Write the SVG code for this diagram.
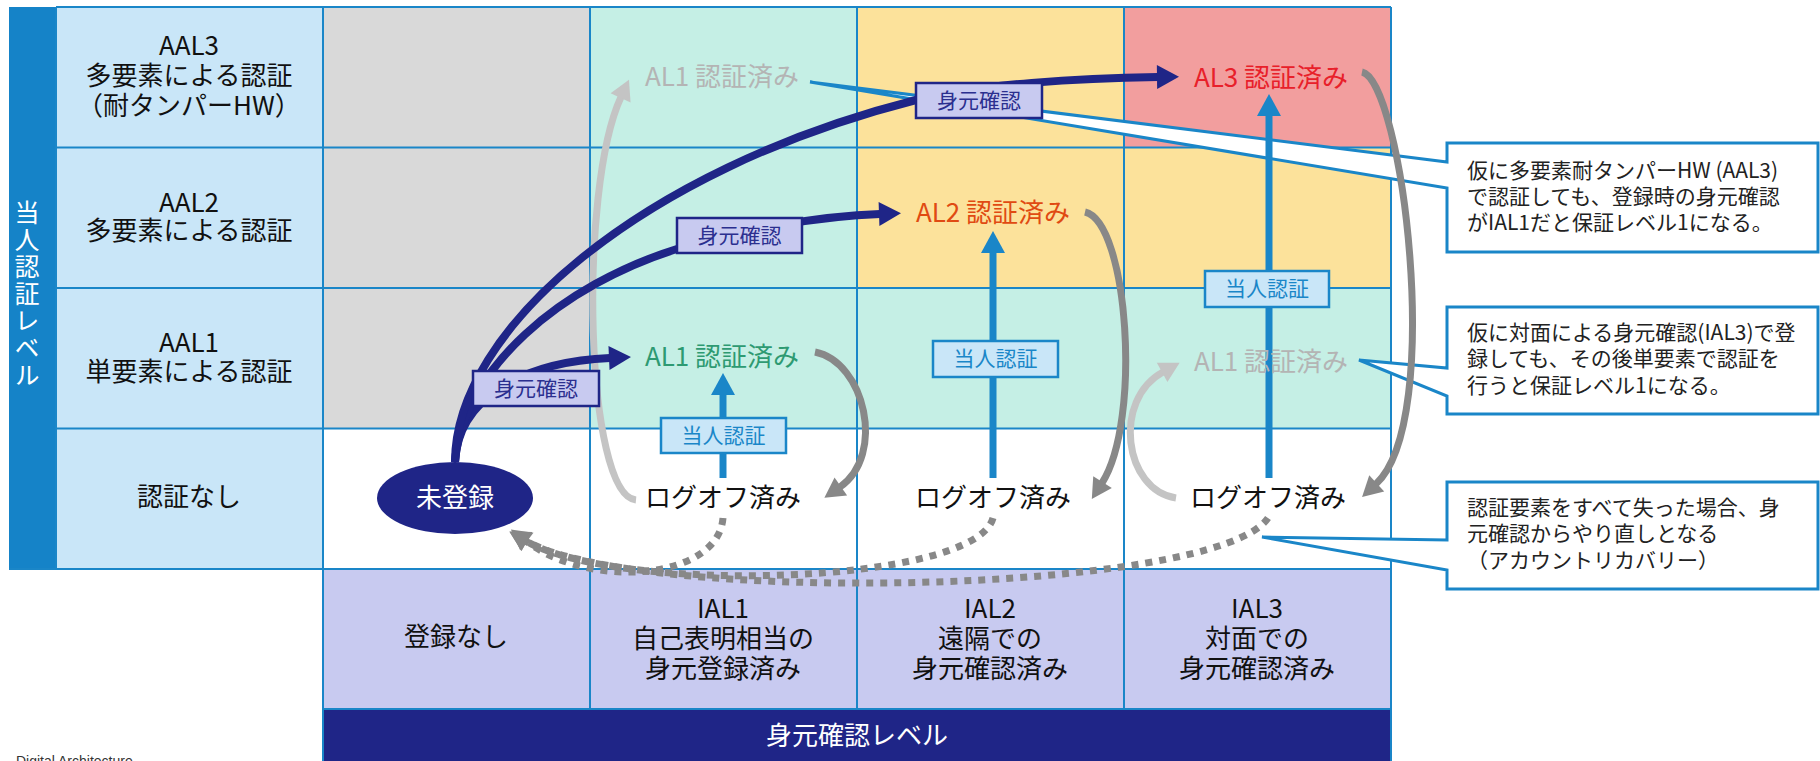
<svg xmlns="http://www.w3.org/2000/svg" width="1820" height="761" viewBox="0 0 1820 761">
<style>
text{font-family:'Noto Sans CJK JP','Noto Sans',sans-serif;}
.c{font-size:26px;fill:#111;text-anchor:middle}
.v{font-size:25px;fill:#fff;writing-mode:vertical-rl;text-orientation:upright;letter-spacing:2px}
.lbl{font-size:21px;text-anchor:middle}
.note{font-size:21px;fill:#222}
.bl{fill:#c9e6f8;stroke:#1a86c8;stroke-width:2.5}
.nv{fill:#c8caf0;stroke:#1f2587;stroke-width:2.5}
.co{fill:#fff;stroke:#1a86c8;stroke-width:3}
.navy{fill:none;stroke:#1f2587;stroke-width:8}
.blue{fill:none;stroke:#1a86c8;stroke-width:7}
.gray{fill:none;stroke:#888;stroke-width:7}
.lgray{fill:none;stroke:#c4c4c4;stroke-width:7}
.dot{fill:none;stroke:#888;stroke-width:7;stroke-dasharray:7 7}
</style>
<defs>
<marker id="mNavy" markerUnits="userSpaceOnUse" markerWidth="24" markerHeight="26" refX="1" refY="12" orient="auto" overflow="visible"><path d="M0,0 L22,12 L0,24 Z" fill="#1f2587"/></marker>
<marker id="mBlue" markerUnits="userSpaceOnUse" markerWidth="24" markerHeight="26" refX="1" refY="12" orient="auto" overflow="visible"><path d="M0,0 L22,12 L0,24 Z" fill="#1a86c8"/></marker>
<marker id="mGray" markerUnits="userSpaceOnUse" markerWidth="22" markerHeight="24" refX="1" refY="11" orient="auto" overflow="visible"><path d="M0,0 L20,11 L0,22 Z" fill="#888"/></marker>
<marker id="mLGray" markerUnits="userSpaceOnUse" markerWidth="22" markerHeight="24" refX="1" refY="11" orient="auto" overflow="visible"><path d="M0,0 L20,11 L0,22 Z" fill="#c4c4c4"/></marker>
</defs>
<rect width="1820" height="761" fill="#fff"/>
<g id="grid">
<rect x="9" y="7" width="47" height="562" fill="#1583c8"/>
<rect x="56" y="7" width="267" height="562" fill="#c9e6f8"/>
<rect x="323" y="7" width="267" height="421.5" fill="#d9d9d9"/>
<rect x="590" y="7" width="267" height="421.5" fill="#c5efe5"/>
<rect x="857" y="7" width="267" height="281" fill="#fce29b"/>
<rect x="857" y="288" width="267" height="140.5" fill="#c5efe5"/>
<rect x="1124" y="7" width="267" height="140.5" fill="#f29e9e"/>
<rect x="1124" y="147.5" width="267" height="140.5" fill="#fce29b"/>
<rect x="1124" y="288" width="267" height="140.5" fill="#c5efe5"/>
<rect x="323" y="569" width="1068" height="140" fill="#c8caf0"/>
<rect x="323" y="709" width="1068" height="52" fill="#1f2587"/>
<path d="M56,7H1391M56,147.5H1391M56,288H1391M56,428.5H1391M9,569H1391M323,709H1391M56,7V569M323,7V761M590,7V709M857,7V709M1124,7V709M1391,7V761" fill="none" stroke="#1a86c8" stroke-width="2"/>
<text class="v" x="27" y="200">当人認証レベル</text>
<text class="c"><tspan x="189" y="55">AAL3</tspan><tspan x="189" y="85">多要素による認証</tspan><tspan x="189" y="115">（耐タンパーHW）</tspan></text>
<text class="c"><tspan x="189" y="212">AAL2</tspan><tspan x="189" y="240">多要素による認証</tspan></text>
<text class="c"><tspan x="189" y="352">AAL1</tspan><tspan x="189" y="381">単要素による認証</tspan></text>
<text class="c" x="189" y="506">認証なし</text>
<text class="c" x="456" y="646">登録なし</text>
<text class="c"><tspan x="723" y="618">IAL1</tspan><tspan x="723" y="648">自己表明相当の</tspan><tspan x="723" y="678">身元登録済み</tspan></text>
<text class="c"><tspan x="990" y="618">IAL2</tspan><tspan x="990" y="648">遠隔での</tspan><tspan x="990" y="678">身元確認済み</tspan></text>
<text class="c"><tspan x="1257" y="618">IAL3</tspan><tspan x="1257" y="648">対面での</tspan><tspan x="1257" y="678">身元確認済み</tspan></text>
<text class="c" x="857" y="745" style="fill:#fff">身元確認レベル</text>
</g>
<g id="callout-aal3">
<path class="co" d="M1447,143H1818V252H1447V188L810,82L1447,162Z"/>
<text class="note"><tspan x="1467" y="178">仮に多要素耐タンパーHW (AAL3)</tspan><tspan x="1467" y="204">で認証しても、登録時の身元確認</tspan><tspan x="1467" y="230">がIAL1だと保証レベル1になる。</tspan></text>
</g>
<g id="callout-ial3">
<path class="co" d="M1447,307H1818V414H1447V396L1359,360L1447,368Z"/>
<text class="note"><tspan x="1467" y="340">仮に対面による身元確認(IAL3)で登</tspan><tspan x="1467" y="366">録しても、その後単要素で認証を</tspan><tspan x="1467" y="393">行うと保証レベル1になる。</tspan></text>
</g>
<g id="callout-recovery">
<path class="co" d="M1447,482H1818V589H1447V570L1262,537L1447,540Z"/>
<text class="note"><tspan x="1467" y="515">認証要素をすべて失った場合、身</tspan><tspan x="1467" y="541">元確認からやり直しとなる</tspan><tspan x="1467" y="568">（アカウントリカバリー）</tspan></text>
</g>
<g id="connectors">
<path class="dot" d="M723,518 C718,580 590,590 526,541" marker-end="url(#mGray)"/>
<path class="dot" d="M993,518 C975,585 620,595 526,541" marker-end="url(#mGray)"/>
<path class="dot" d="M1268,518 C1215,595 640,605 526,541" marker-end="url(#mGray)"/>
<path class="lgray" d="M636,500 C585,495 578,190 621,97" marker-end="url(#mLGray)"/>
<path class="lgray" d="M1176,498 C1124,490 1112,400 1163,372" marker-end="url(#mLGray)"/>
<path class="gray" d="M815,352 C865,362 886,455 840,487" marker-end="url(#mGray)"/>
<path class="gray" d="M1085,212 C1128,222 1142,420 1102,483" marker-end="url(#mGray)"/>
<path class="gray" d="M1362,72 C1402,80 1445,420 1376,484" marker-end="url(#mGray)"/>
<path class="blue" d="M723,478 V394" marker-end="url(#mBlue)"/>
<path class="blue" d="M993,478 V252" marker-end="url(#mBlue)"/>
<path class="blue" d="M1269,478 V115" marker-end="url(#mBlue)"/>
<path class="navy" d="M455,462 C458,400 520,362 610,358" marker-end="url(#mNavy)"/>
<path class="navy" d="M455,462 C462,370 560,285 680,248 C740,230 820,216 880,214" marker-end="url(#mNavy)"/>
<path class="navy" d="M455,462 C455,330 640,170 916,100 C980,84 1080,78 1158,77" marker-end="url(#mNavy)"/>
<g id="label-auth1"><rect class="bl" x="661" y="418" width="125" height="35"/><text class="lbl" x="723.5" y="443" fill="#1a86c8">当人認証</text></g>
<g id="label-auth2"><rect class="bl" x="933" y="341" width="125" height="36"/><text class="lbl" x="995.5" y="366" fill="#1a86c8">当人認証</text></g>
<g id="label-auth3"><rect class="bl" x="1205" y="271" width="124" height="36"/><text class="lbl" x="1267" y="296" fill="#1a86c8">当人認証</text></g>
<g id="label-id1"><rect class="nv" x="473" y="371" width="126" height="35"/><text class="lbl" x="536" y="396" fill="#2b2f8f">身元確認</text></g>
<g id="label-id2"><rect class="nv" x="677" y="218" width="125" height="35"/><text class="lbl" x="739.5" y="243" fill="#2b2f8f">身元確認</text></g>
<g id="label-id3"><rect class="nv" x="916" y="83" width="126" height="35"/><text class="lbl" x="979" y="108" fill="#2b2f8f">身元確認</text></g>
</g>
<g id="node-unregistered"><ellipse cx="455" cy="498" rx="78" ry="36" fill="#1f2587"/><text class="c" x="455" y="507" style="fill:#fff">未登録</text></g>
<g id="node-al1-gray-top"><text class="c" x="722" y="86" style="fill:#b4b4b4">AL1 認証済み</text></g>
<g id="node-al1-green"><text class="c" x="722" y="366" style="fill:#2e9a72">AL1 認証済み</text></g>
<g id="node-al2"><text class="c" x="993" y="222" style="fill:#e04a12">AL2 認証済み</text></g>
<g id="node-al3"><text class="c" x="1271" y="87" style="fill:#e8202a">AL3 認証済み</text></g>
<g id="node-al1-gray-ial3"><text class="c" x="1271" y="371" style="fill:#b4b4b4">AL1 認証済み</text></g>
<g id="node-logoff1"><text class="c" x="723" y="507">ログオフ済み</text></g>
<g id="node-logoff2"><text class="c" x="993" y="507">ログオフ済み</text></g>
<g id="node-logoff3"><text class="c" x="1268" y="507">ログオフ済み</text></g>
<text x="16" y="766" font-size="14" fill="#333" style="font-family:'Liberation Sans',sans-serif">Digital Architecture</text>
</svg>
